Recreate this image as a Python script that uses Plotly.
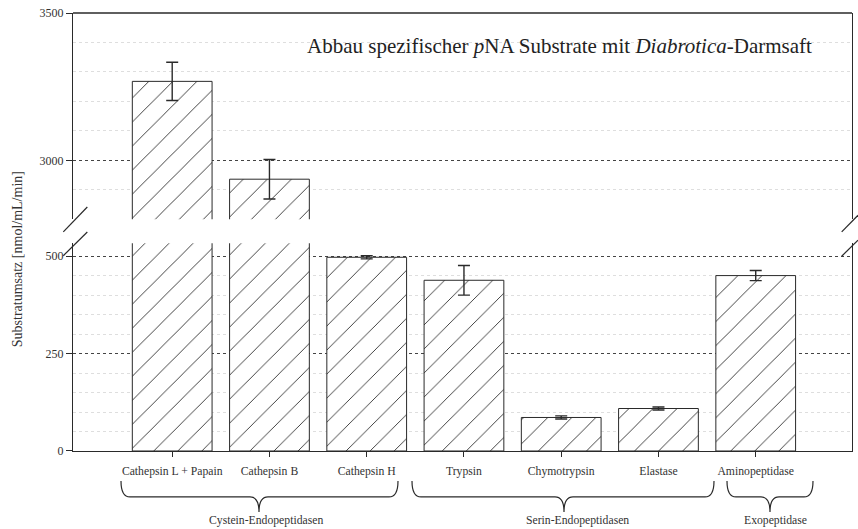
import plotly.graph_objects as go

categories = ["Cathepsin L + Papain", "Cathepsin B", "Cathepsin H", "Trypsin",
              "Chymotrypsin", "Elastase", "Aminopeptidase"]
values = [3268, 2936, 497, 438, 86, 109, 450]
errors = [65, 67, 4, 38, 4, 4, 13]
groups = ["Cystein-Endopeptidasen", "Serin-Endopeptidasen", "Exopeptidase"]
title_text = "Abbau spezifischer <i>p</i>NA Substrate mit <i>Diabrotica</i>-Darmsaft"
ytitle = "Substratumsatz [nmol/mL/min]"

W, H = 858, 529
ML, MR, MT, MB = 73, 6, 12.5, 78
PW, PH = W - ML - MR, H - MT - MB

def px(x):
    return (x - ML) / PW

def py(y):
    return (H - MB - y) / PH

FONT = "Liberation Serif"
INK = "#2a2a2a"

def bar_trace(yaxis):
    return go.Bar(
        x=categories, y=values, yaxis=yaxis, width=0.82,
        marker=dict(color="white", line=dict(color=INK, width=1),
                    pattern=dict(shape="/", size=17, solidity=0.05,
                                 fgcolor="#222", bgcolor="white", fillmode="replace")),
        error_y=dict(type="data", array=errors, color=INK, thickness=1.4, width=6),
        showlegend=False, hoverinfo="x+y",
    )

fig = go.Figure([bar_trace("y"), bar_trace("y2")])

low_dom = [0, py(243)]
up_dom = [py(219), 1]

axis_common = dict(showline=True, linecolor=INK, linewidth=1.3, mirror=True,
                   ticks="outside", ticklen=6, tickcolor=INK, zeroline=False,
                   tickfont=dict(family=FONT, size=12, color="#333"),
                   showgrid=True, gridcolor="#444", griddash="dot", gridwidth=1.3)

fig.update_layout(
    width=W, height=H,
    margin=dict(l=ML, r=MR, t=MT, b=MB),
    plot_bgcolor="white", paper_bgcolor="white",
    font=dict(family=FONT, color="#333"),
    xaxis=dict(anchor="y", range=[-1.02, 6.99], showline=True, linecolor=INK, linewidth=1.3,
               ticks="outside", ticklen=5, tickcolor=INK, showgrid=False,
               tickfont=dict(family=FONT, size=11.7, color="#333"), ticklabelstandoff=4),
    yaxis=dict(domain=low_dom, range=[0, 533], tickvals=[0, 250, 500],
               minor=dict(dtick=50, tick0=0, showgrid=True, gridcolor="#dedede",
                          griddash="dot", gridwidth=1, ticks=""),
               **axis_common),
    yaxis2=dict(domain=up_dom, range=[2800, 3500], tickvals=[3000, 3500],
                minor=dict(dtick=100, tick0=0, showgrid=True, gridcolor="#dedede",
                           griddash="dot", gridwidth=1, ticks=""),
                **axis_common),
)

shapes = []
# top border
shapes.append(dict(type="line", xref="paper", yref="paper", x0=0, x1=1, y0=1, y1=1,
                   line=dict(color=INK, width=1.3)))
# break marks on both sides
shapes.append(dict(type="line", xref="paper", yref="paper",
                   x0=px(63.3), y0=py(231.7), x1=px(87.3), y1=py(206.7),
                   line=dict(color=INK, width=1.2)))
shapes.append(dict(type="line", xref="paper", yref="paper",
                   x0=px(63.3), y0=py(255.5), x1=px(87.3), y1=py(231.7),
                   line=dict(color=INK, width=1.2)))
shapes.append(dict(type="line", xref="paper", yref="paper",
                   x0=px(841.7), y0=py(231.7), x1=px(858), y1=py(215),
                   line=dict(color=INK, width=1.2)))
shapes.append(dict(type="line", xref="paper", yref="paper",
                   x0=px(841.7), y0=py(256), x1=px(858), y1=py(240),
                   line=dict(color=INK, width=1.2)))

def brace(x0, x1, xm, ytop=481, ymid=497, ytip=512, r=9):
    pts = (f"M {px(x0)},{py(ytop)} Q {px(x0)},{py(ymid)} {px(x0 + r)},{py(ymid)} "
           f"L {px(xm - r)},{py(ymid)} Q {px(xm)},{py(ymid)} {px(xm)},{py(ytip)} "
           f"Q {px(xm)},{py(ymid)} {px(xm + r)},{py(ymid)} "
           f"L {px(x1 - r)},{py(ymid)} Q {px(x1)},{py(ymid)} {px(x1)},{py(ytop)}")
    return dict(type="path", xref="paper", yref="paper", path=pts,
                line=dict(color=INK, width=1.2))

brace_px = [(121, 398, 259), (412, 714, 564), (727, 813, 770)]
label_px = [266, 577, 775]
for b in brace_px:
    shapes.append(brace(*b))
fig.update_layout(shapes=shapes)

annotations = []
for g, lx in zip(groups, label_px):
    annotations.append(dict(text=g, xref="paper", yref="paper", x=px(lx), y=py(521),
                            showarrow=False, xanchor="center", yanchor="middle",
                            font=dict(family=FONT, size=11.7, color="#333")))
annotations.append(dict(text=title_text, xref="paper", yref="paper", x=px(559), y=py(46),
                        showarrow=False, xanchor="center", yanchor="middle",
                        font=dict(family=FONT, size=21, color="#222")))
annotations.append(dict(text=ytitle, xref="paper", yref="paper", x=px(17), y=py(259),
                        showarrow=False, textangle=-90, xanchor="center", yanchor="middle",
                        font=dict(family=FONT, size=14, color="#333")))
fig.update_layout(annotations=annotations)

fig.write_html("out.html", config={"displayModeBar": False},
               post_script="document.body.style.margin='0px';document.body.style.padding='0px';"
                           "document.body.style.overflow='hidden';")
